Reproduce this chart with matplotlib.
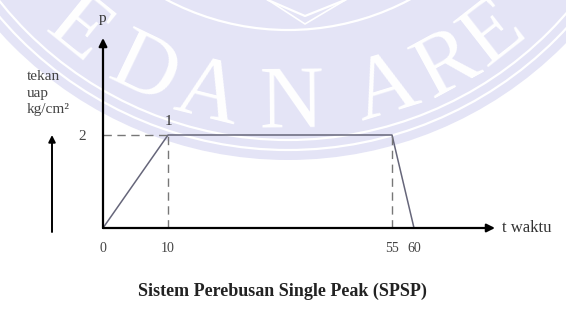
import numpy as np
import matplotlib
matplotlib.use("Agg")
import matplotlib.pyplot as plt
from matplotlib.patches import Circle, Arc

plt.rcParams['font.family'] = ['Liberation Serif', 'DejaVu Serif']

# chart data (schematic SPSP pressure profile)
time = [0, 10, 55, 60]
pressure = [0, 2, 2, 0]
x_ticks = [0, 10, 55, 60]
x_tick_labels = ['0', '10', '55', '60']
y_ticks = [2]
y_tick_labels = ['2']
peak_label = '1'
title = 'Sistem Perebusan Single Peak (SPSP)'
left_label = 'tekan\nuap\nkg/cm²'
# only the part of the logo ring that shows in the picture
watermark = 'EDAN ARE'

W, H = 566, 325
fig = plt.figure(figsize=(W / 100, H / 100), dpi=100)
fig.patch.set_facecolor('white')

# background layer in pixel coordinates (watermark + side notes)
bg = fig.add_axes([0, 0, 1, 1], zorder=0)
bg.set_xlim(0, W)
bg.set_ylim(H, 0)
bg.axis('off')

lav = '#e4e4f6'
cx, cy = 288, -229
bg.add_patch(Circle((cx, cy), 389, facecolor=lav, edgecolor='none'))
for r in (259, 369, 379):
    bg.add_patch(Arc((cx, cy), 2 * r, 2 * r, theta1=0, theta2=180, color='white', lw=1.6))
bg.plot([268, 305, 345], [0, 16, 0], color='white', lw=1.6)
bg.plot([262, 305, 352], [-4, 24, -4], color='white', lw=1.2)

angles = [-39, -25.7, -14, 0.5, None, 17, 28.5, 38]
radius = 334
for ch, a in zip(watermark, angles):
    if a is None:
        continue
    t = np.deg2rad(a)
    bg.text(cx + radius * np.sin(t), cy + radius * np.cos(t), ch, fontsize=64,
            color='white', ha='center', va='center', rotation=a,
            rotation_mode='anchor', clip_on=True)

bg.text(27, 93, left_label, fontsize=11, color='#444', ha='left', va='center',
        linespacing=1.3)
bg.annotate('', xy=(52, 135), xytext=(52, 232),
            arrowprops=dict(arrowstyle='-|>', color='black', lw=1.4,
                            mutation_scale=10, shrinkA=0, shrinkB=0))

bg.text(282, 291, title, fontsize=13, fontweight='bold', color='#222',
        ha='center', va='center')

# main chart
ax = fig.add_axes([103 / W, (H - 228) / H, (495 - 103) / W, (228 - 38) / H], zorder=1)
ax.patch.set_alpha(0)

knots_t = [0, 10, 55, 60, 80]
knots_u = [0, 13, 57.8, 62.2, 82.2]
ax.set_xscale('function', functions=(lambda t: np.interp(t, knots_t, knots_u),
                                     lambda u: np.interp(u, knots_u, knots_t)))
ax.set_xlim(0, 76.2)
ax.set_ylim(0, 4.086)

for s in ax.spines.values():
    s.set_visible(False)

ax.plot(time, pressure, color='#66667a', lw=1.1, clip_on=False)
peak_t = time[1]
end_t = time[2]
top = pressure[1]
ax.plot([0, peak_t], [top, top], color='#777', lw=1.0, ls=(0, (6, 4)))
ax.plot([peak_t, peak_t], [0, top], color='#777', lw=1.0, ls=(0, (6, 4)))
ax.plot([end_t, end_t], [0, top], color='#777', lw=1.0, ls=(0, (6, 4)))
ax.annotate(peak_label, xy=(peak_t, top), xytext=(0, 10), textcoords='offset points',
            ha='center', va='center', fontsize=11, color='#333')

ax.set_xticks(x_ticks)
ax.set_xticklabels(x_tick_labels)
ax.set_yticks(y_ticks)
ax.set_yticklabels(y_tick_labels)
ax.tick_params(axis='x', length=0, pad=10, labelsize=10, labelcolor='#444')
ax.tick_params(axis='y', length=0, pad=12, labelsize=11, labelcolor='#444')

arrow = dict(arrowstyle='-|>', color='black', lw=1.6, mutation_scale=12,
             shrinkA=0, shrinkB=0)
ax.annotate('', xy=(1, 0), xytext=(0, 0), xycoords='axes fraction', arrowprops=arrow)
ax.annotate('', xy=(0, 1), xytext=(0, 0), xycoords='axes fraction', arrowprops=arrow)
ax.annotate('p', xy=(0, 1), xycoords='axes fraction', xytext=(0, 14),
            textcoords='offset points', ha='center', va='center', fontsize=11, color='#333')
ax.annotate('t waktu', xy=(1, 0), xycoords='axes fraction', xytext=(5, 0),
            textcoords='offset points', ha='left', va='center', fontsize=12, color='#333')

fig.savefig('out.png', dpi=100)
